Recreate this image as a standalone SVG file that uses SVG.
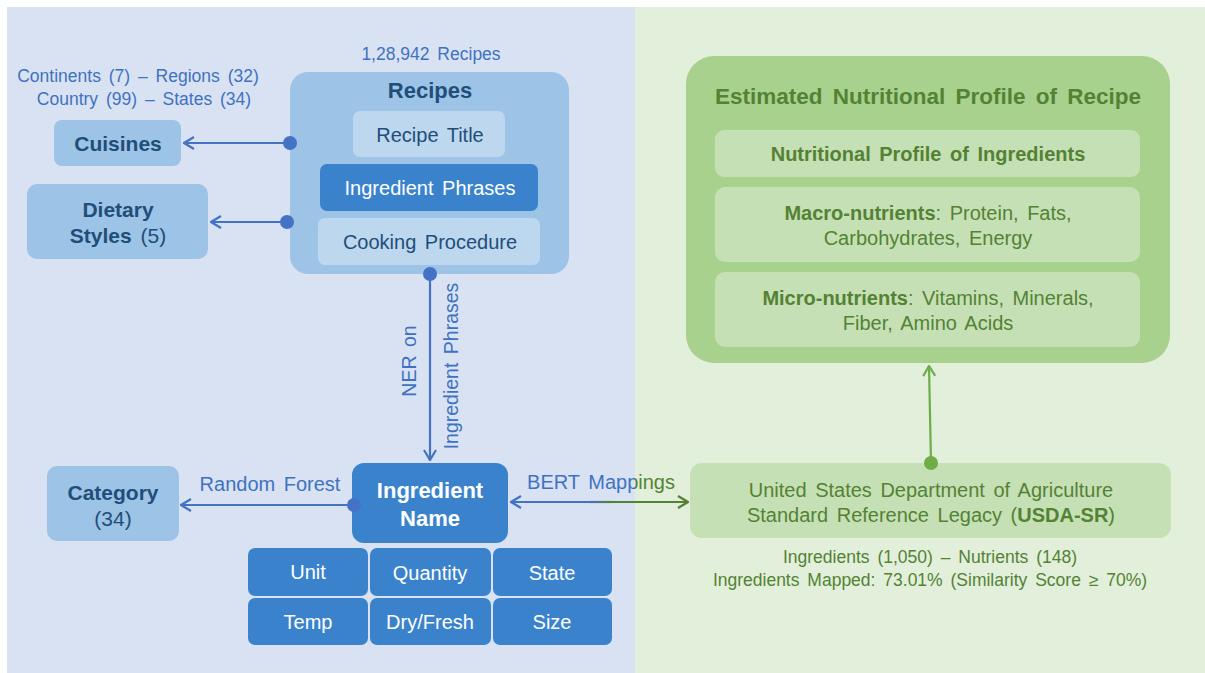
<svg xmlns="http://www.w3.org/2000/svg" width="1205" height="673" viewBox="0 0 1205 673">
  <defs>
    <style>
      text { font-family: "Liberation Sans", Arial, sans-serif; text-anchor: middle; word-spacing: 3px; }
      .b { font-weight: bold; }
      .dk { fill: #1F4E79; }
      .lb { fill: #3F72C0; }
      .wh { fill: #FFFFFF; }
      .gr { fill: #548235; }
      .f20 { font-size: 20px; }
      .f21 { font-size: 21px; }
      .f17 { font-size: 17.5px; }
      .blueLine { stroke: #4472C4; stroke-width: 2.2; fill: none; }
      .greenLine { stroke: #70AD47; stroke-width: 2.2; fill: none; }
      .bLight { fill: #9DC3E6; }
      .bPale { fill: #BDD7EE; }
      .bMid { fill: #3A83CC; }
      .gBig { fill: #A9D18E; }
      .gPale { fill: #C5E0B4; }
    </style>
    <marker id="arrBlue" viewBox="0 0 12 14" refX="11" refY="7" markerWidth="12" markerHeight="14" markerUnits="userSpaceOnUse" orient="auto-start-reverse">
      <path d="M1,1 L11,7 L1,13" fill="none" stroke="#4472C4" stroke-width="2.2"/>
    </marker>
    <marker id="arrGreen" viewBox="0 0 12 14" refX="11" refY="7" markerWidth="12" markerHeight="14" markerUnits="userSpaceOnUse" orient="auto-start-reverse">
      <path d="M1,1 L11,7 L1,13" fill="none" stroke="#548235" stroke-width="2.2"/>
    </marker>
    <marker id="arrLightGreen" viewBox="0 0 12 14" refX="11" refY="7" markerWidth="12" markerHeight="14" markerUnits="userSpaceOnUse" orient="auto">
      <path d="M1,1 L11,7 L1,13" fill="none" stroke="#70AD47" stroke-width="2.2"/>
    </marker>
    <linearGradient id="bertLine" gradientUnits="userSpaceOnUse" x1="590" y1="0" x2="612" y2="0">
      <stop offset="0" stop-color="#4472C4"/>
      <stop offset="1" stop-color="#548235"/>
    </linearGradient>
    <linearGradient id="bertText" gradientUnits="userSpaceOnUse" x1="634" y1="0" x2="636" y2="0">
      <stop offset="0" stop-color="#3F72C0"/>
      <stop offset="1" stop-color="#548235"/>
    </linearGradient>
  </defs>

  <!-- background panels -->
  <rect x="0" y="0" width="1205" height="673" fill="#FFFFFF"/>
  <rect x="7" y="7" width="628" height="666" fill="#D9E2F3"/>
  <rect x="635" y="7" width="570" height="666" fill="#E2EFDA"/>

  <!-- free-standing annotations -->
  <text class="lb f17" x="431" y="60">1,28,942 Recipes</text>
  <text class="lb f17" x="138" y="82">Continents (7) – Regions (32)</text>
  <text class="lb f17" x="144" y="105">Country (99) – States (34)</text>
  <text class="gr f17" x="930" y="563">Ingredients (1,050) – Nutrients (148)</text>
  <text class="gr f17" x="930" y="586">Ingredients Mapped: 73.01% (Similarity Score ≥ 70%)</text>

  <!-- Recipes -->
  <g id="recipes">
    <rect class="bLight" x="290" y="72" width="279" height="202" rx="18"/>
    <text class="b dk" x="430" y="98" font-size="22">Recipes</text>
    <rect class="bPale" x="353" y="111" width="152" height="46" rx="7"/>
    <text class="dk f20" x="430" y="142">Recipe Title</text>
    <rect class="bMid" x="320" y="164" width="218" height="47" rx="7"/>
    <text class="wh f20" x="430" y="195">Ingredient Phrases</text>
    <rect class="bPale" x="318" y="218" width="222" height="47" rx="7"/>
    <text class="dk f20" x="430" y="249">Cooking Procedure</text>
  </g>

  <g id="cuisines">
    <rect class="bLight" x="54" y="120" width="127" height="46" rx="8"/>
    <text class="b dk f21" x="118" y="151">Cuisines</text>
  </g>

  <g id="dietary-styles">
    <rect class="bLight" x="27" y="184" width="181" height="75" rx="10"/>
    <text class="b dk f21" x="118" y="217">Dietary</text>
    <text class="dk f21" x="118" y="243"><tspan class="b">Styles</tspan> (5)</text>
  </g>

  <g id="category">
    <rect class="bLight" x="47" y="466" width="132" height="75" rx="10"/>
    <text class="b dk f21" x="113" y="500">Category</text>
    <text class="dk f21" x="113" y="526">(34)</text>
  </g>

  <g id="ingredient-name">
    <rect class="bMid" x="352" y="463" width="156" height="80" rx="12"/>
    <text class="b wh" font-size="22" x="430" y="498">Ingredient</text>
    <text class="b wh" font-size="22" x="430" y="526">Name</text>
  </g>

  <g id="attributes">
    <rect class="bMid" x="248" y="548" width="120" height="48" rx="7"/>
    <text class="wh f20" x="308" y="579">Unit</text>
    <rect class="bMid" x="370" y="548" width="121" height="48" rx="7"/>
    <text class="wh f20" x="430" y="580">Quantity</text>
    <rect class="bMid" x="493" y="548" width="119" height="48" rx="7"/>
    <text class="wh f20" x="552" y="580">State</text>
    <rect class="bMid" x="248" y="598" width="120" height="47" rx="7"/>
    <text class="wh f20" x="308" y="629">Temp</text>
    <rect class="bMid" x="370" y="598" width="121" height="47" rx="7"/>
    <text class="wh f20" x="430" y="629">Dry/Fresh</text>
    <rect class="bMid" x="493" y="598" width="119" height="47" rx="7"/>
    <text class="wh f20" x="552" y="629">Size</text>
  </g>

  <g id="usda-sr">
    <rect class="gPale" x="690" y="463" width="481" height="75" rx="12"/>
    <text class="gr f20" x="931" y="497">United States Department of Agriculture</text>
    <text class="gr f20" x="931" y="522">Standard Reference Legacy (<tspan class="b">USDA-SR</tspan>)</text>
  </g>

  <g id="nutritional-profile">
    <rect class="gBig" x="686" y="56" width="484" height="307" rx="28"/>
    <text class="b gr" font-size="22.5" x="928" y="104" style="word-spacing:4px">Estimated Nutritional Profile of Recipe</text>
    <rect class="gPale" x="715" y="130" width="425" height="47" rx="9"/>
    <text class="b gr f20" x="928" y="161">Nutritional Profile of Ingredients</text>
    <rect class="gPale" x="715" y="187" width="425" height="75" rx="10"/>
    <text class="gr f20" x="928" y="220"><tspan class="b">Macro-nutrients</tspan>: Protein, Fats,</text>
    <text class="gr f20" x="928" y="245">Carbohydrates, Energy</text>
    <rect class="gPale" x="715" y="272" width="425" height="75" rx="10"/>
    <text class="gr f20" x="928" y="305"><tspan class="b">Micro-nutrients</tspan>: Vitamins, Minerals,</text>
    <text class="gr f20" x="928" y="330">Fiber, Amino Acids</text>
  </g>

  <!-- connectors -->
  <g id="connectors">
    <line class="blueLine" x1="290" y1="143" x2="184" y2="143" marker-end="url(#arrBlue)"/>
    <circle cx="290" cy="143" r="7" fill="#4472C4"/>

    <line class="blueLine" x1="287" y1="222" x2="211" y2="222" marker-end="url(#arrBlue)"/>
    <circle cx="287" cy="222" r="7" fill="#4472C4"/>

    <line class="blueLine" x1="430" y1="274" x2="430" y2="460" marker-end="url(#arrBlue)"/>
    <circle cx="430" cy="274" r="7" fill="#4472C4"/>
    <text class="lb" font-size="19.5" transform="translate(416,361) rotate(-90)">NER on</text>
    <text class="lb" font-size="19.5" transform="translate(458,366) rotate(-90)">Ingredient Phrases</text>

    <line class="blueLine" x1="352" y1="505" x2="181" y2="505" marker-end="url(#arrBlue)"/>
    <circle cx="354" cy="505" r="7" fill="#4472C4"/>
    <text class="lb f20" x="270" y="491">Random Forest</text>

    <line x1="511" y1="502" x2="600" y2="502" stroke="#4472C4" stroke-width="2.2" marker-start="url(#arrBlue)"/>
    <line x1="598" y1="502" x2="688" y2="502" stroke="#548235" stroke-width="2.2" marker-end="url(#arrGreen)"/>
    <line x1="590" y1="502" x2="612" y2="502" stroke="url(#bertLine)" stroke-width="2.2"/>
    <text class="f20" x="601" y="489" fill="url(#bertText)">BERT Mappings</text>

    <line class="greenLine" x1="931" y1="463" x2="929" y2="366" marker-end="url(#arrLightGreen)"/>
    <circle cx="931" cy="463" r="7" fill="#70AD47"/>
  </g>
</svg>
